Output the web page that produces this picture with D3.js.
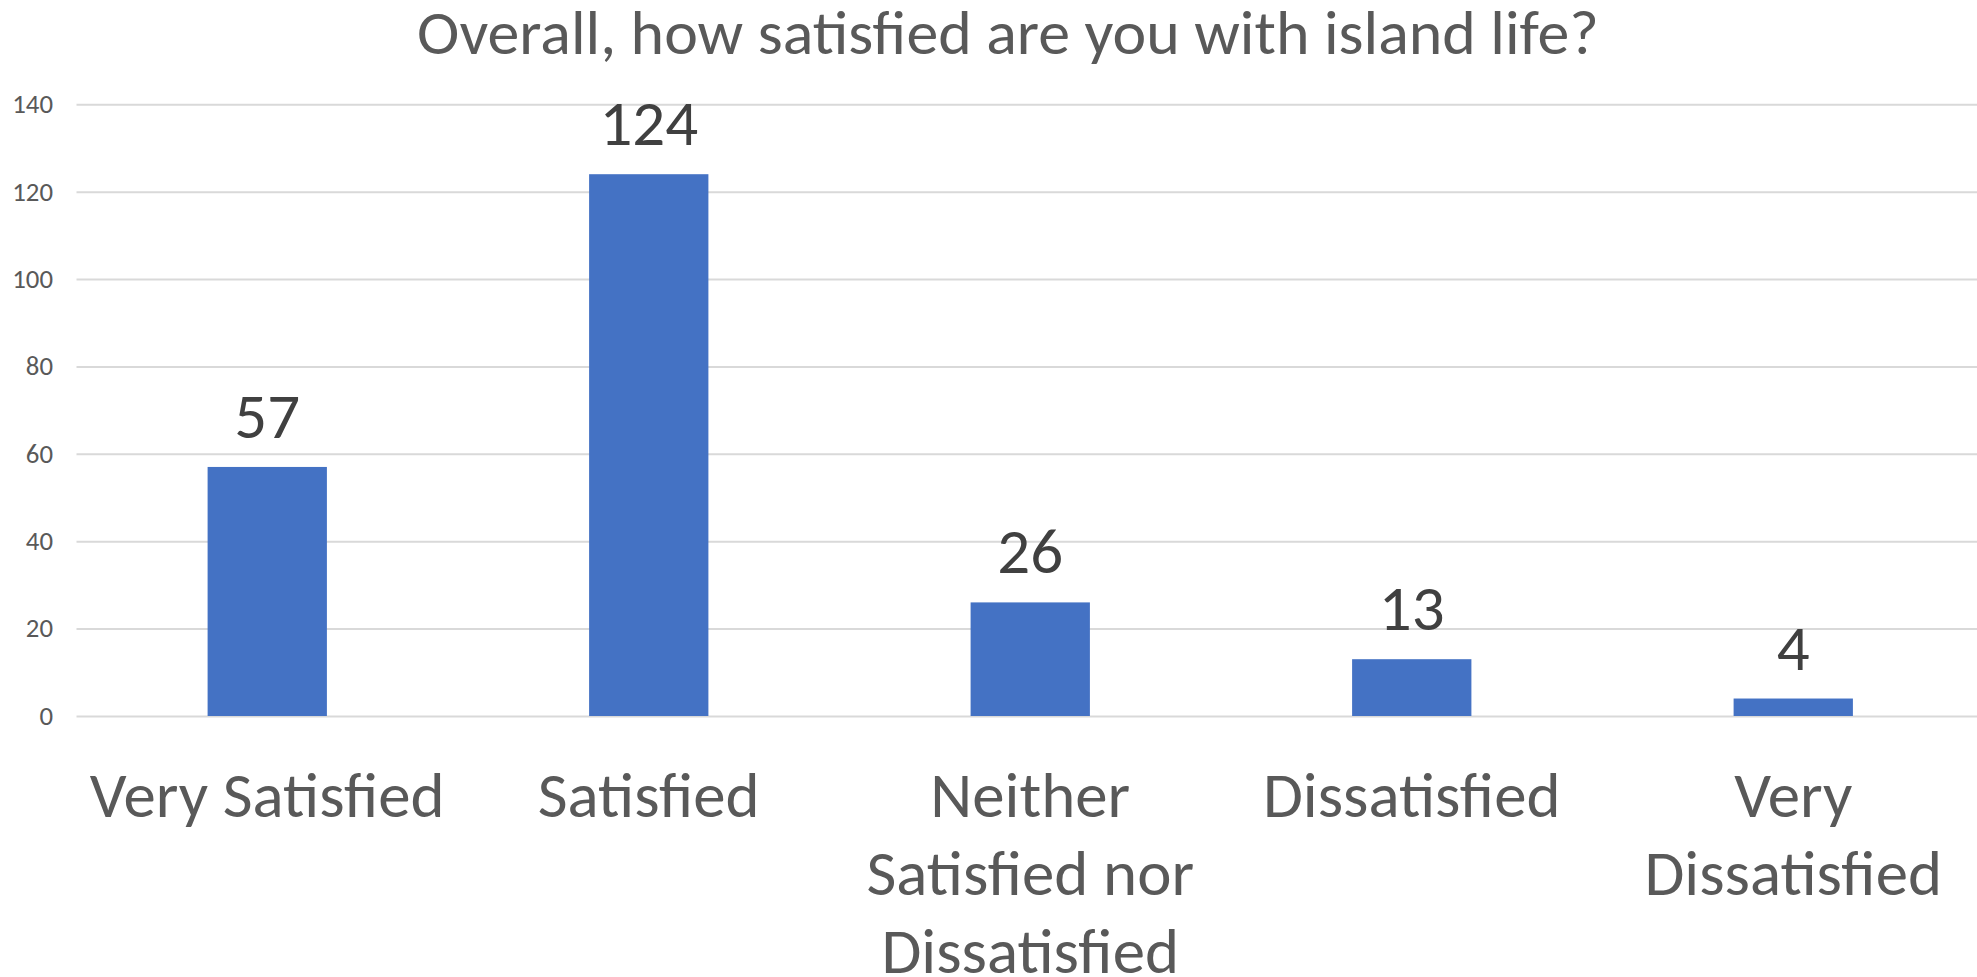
<!DOCTYPE html>
<html>
<head>
<meta charset="utf-8">
<script src="https://cdn.jsdelivr.net/npm/d3@7"></script>
<style>
  html, body { margin: 0; padding: 0; background: #ffffff; }
  svg { display: block; }
  text { font-family: Carlito, Calibri, Lato, "Open Sans", sans-serif; }
</style>
</head>
<body>
<svg id="chart" width="1977" height="977"></svg>
<script>
// ---- data ----
const title = "Overall, how satisfied are you with island life?";
const categories = ["Very Satisfied", "Satisfied", "Neither Satisfied nor Dissatisfied", "Dissatisfied", "Very Dissatisfied"];
const categoryLines = [["Very Satisfied"], ["Satisfied"], ["Neither", "Satisfied nor", "Dissatisfied"], ["Dissatisfied"], ["Very", "Dissatisfied"]];
const values = [57, 124, 26, 13, 4];
const yTicks = [0, 20, 40, 60, 80, 100, 120, 140];

// ---- layout ----
const W = 1977, H = 977;
const plot = { left: 76.5, right: 1984, top: 104.3, bottom: 716 };
const condense = 1.03;

const svg = d3.select("#chart");
svg.append("rect").attr("width", W).attr("height", H).attr("fill", "#ffffff");

const x = d3.scaleBand()
  .domain(categories)
  .range([plot.left, plot.right])
  .paddingInner(0.6873)
  .paddingOuter(0.6873 / 2);

const y = d3.scaleLinear()
  .domain([0, 140])
  .range([plot.bottom, plot.top]);

function fitText(sel) {
  sel.each(function () {
    const len = this.getComputedTextLength();
    d3.select(this).attr("textLength", len * condense).attr("lengthAdjust", "spacingAndGlyphs");
  });
}

// gridlines + y tick labels
const yAxis = d3.axisLeft(y).tickValues(yTicks).tickSize(-(plot.right - plot.left)).tickPadding(23.5);
const gy = svg.append("g").attr("transform", `translate(${plot.left},0)`).call(yAxis);
gy.select(".domain").remove();
gy.selectAll(".tick line").attr("stroke", "#D9D9D9").attr("stroke-width", 2);
gy.selectAll(".tick text")
  .attr("fill", "#595959")
  .attr("font-size", 26)
  .attr("font-family", "Carlito, Calibri, Lato, sans-serif")
  .call(fitText);

// bars
svg.append("g").selectAll("rect")
  .data(values)
  .join("rect")
  .attr("x", (d, i) => x(categories[i]))
  .attr("width", x.bandwidth())
  .attr("y", d => y(d))
  .attr("height", d => y(0) - y(d))
  .attr("fill", "#4472C4");

// value labels
svg.append("g").selectAll("text")
  .data(values)
  .join("text")
  .attr("x", (d, i) => x(categories[i]) + x.bandwidth() / 2)
  .attr("y", d => y(d) - 29)
  .attr("text-anchor", "middle")
  .attr("fill", "#404040")
  .attr("font-size", 63)
  .text(d => d)
  .call(fitText);

// category labels
const gx = svg.append("g");
categoryLines.forEach((lines, i) => {
  const cx = x(categories[i]) + x.bandwidth() / 2;
  lines.forEach((ln, j) => {
    gx.append("text")
      .attr("x", cx)
      .attr("y", 817 + j * 78)
      .attr("text-anchor", "middle")
      .attr("fill", "#595959")
      .attr("font-size", 63)
      .text(ln)
      .call(fitText);
  });
});

// title
svg.append("text")
  .attr("x", 1008)
  .attr("y", 54)
  .attr("text-anchor", "middle")
  .attr("fill", "#595959")
  .attr("font-size", 62)
  .text(title)
  .call(fitText);
</script>
</body>
</html>
